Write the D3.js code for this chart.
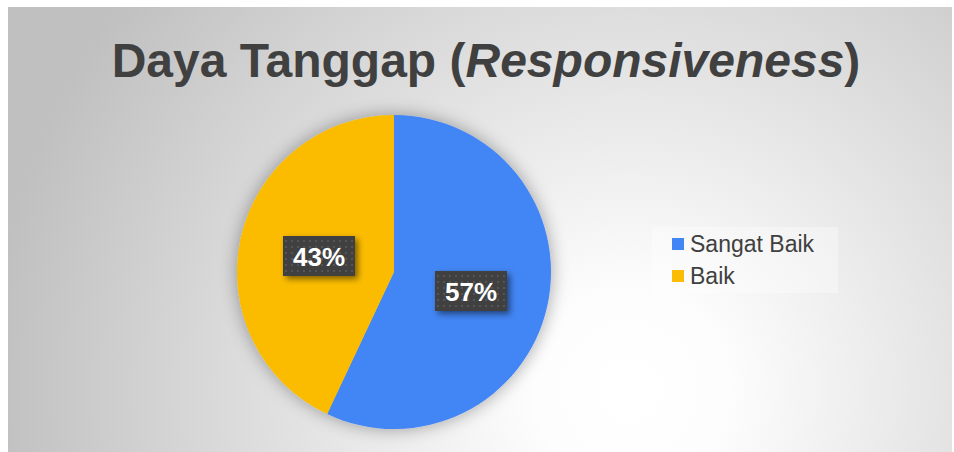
<!DOCTYPE html>
<html>
<head>
<meta charset="utf-8">
<script src="https://cdn.jsdelivr.net/npm/d3@7"></script>
<style>
  body { margin: 0; background: #fff; }
  svg { display: block; font-family: "Liberation Sans", Arial, sans-serif; }
</style>
</head>
<body>
<div id="chart"></div>
<script>
// data
var categories = ["Sangat Baik", "Baik"];
var values = [57, 43];
var colors = ["#4285f4", "#fbbc04"];
var chartTitle = "Daya Tanggap (";
var chartTitleItalic = "Responsiveness";

var svgWidth = 954, svgHeight = 452;

var svg = d3.select("#chart").append("svg")
    .attr("width", svgWidth)
    .attr("height", svgHeight);

var defs = svg.append("defs");

// background gradient
var bg = defs.append("radialGradient")
    .attr("id", "bgGrad")
    .attr("gradientUnits", "userSpaceOnUse")
    .attr("cx", 630).attr("cy", 390).attr("r", 640);
bg.append("stop").attr("offset", "0%").attr("stop-color", "#ffffff");
bg.append("stop").attr("offset", "15%").attr("stop-color", "#fdfdfd");
bg.append("stop").attr("offset", "100%").attr("stop-color", "#c0c0c0");

var shadow = defs.append("filter").attr("id", "pieShadow")
    .attr("x", "-20%").attr("y", "-20%").attr("width", "140%").attr("height", "140%");
shadow.append("feGaussianBlur").attr("in", "SourceAlpha").attr("stdDeviation", 9);
shadow.append("feComponentTransfer").append("feFuncA").attr("type", "linear").attr("slope", 0.35);
var sm = shadow.append("feMerge");
sm.append("feMergeNode");
sm.append("feMergeNode").attr("in", "SourceGraphic");

var boxShadow = defs.append("filter").attr("id", "boxShadow")
    .attr("x", "-30%").attr("y", "-30%").attr("width", "160%").attr("height", "160%");
boxShadow.append("feGaussianBlur").attr("in", "SourceAlpha").attr("stdDeviation", 3);
boxShadow.append("feOffset").attr("dx", 3).attr("dy", 3).attr("result", "ob");
boxShadow.append("feComponentTransfer").append("feFuncA").attr("type", "linear").attr("slope", 0.5);
var bm = boxShadow.append("feMerge");
bm.append("feMergeNode");
bm.append("feMergeNode").attr("in", "SourceGraphic");

var pat = defs.append("pattern").attr("id", "dots")
    .attr("patternUnits", "userSpaceOnUse")
    .attr("width", 6).attr("height", 6);
pat.append("rect").attr("width", 6).attr("height", 6).attr("fill", "#404040");
pat.append("rect").attr("x", 2).attr("y", 2).attr("width", 2).attr("height", 2).attr("fill", "#555555");

svg.append("rect")
    .attr("x", 8).attr("y", 7)
    .attr("width", 944).attr("height", 445)
    .attr("fill", "url(#bgGrad)");

// title
var title = svg.append("text")
    .attr("x", 486).attr("y", 77)
    .attr("text-anchor", "middle")
    .attr("font-size", 48)
    .attr("font-weight", "bold")
    .attr("fill", "#404040");
title.append("tspan").text(chartTitle);
title.append("tspan").attr("font-style", "italic").text(chartTitleItalic);
title.append("tspan").text(")");

// pie
var cx = 394, cy = 272, radius = 157;
var pie = d3.pie().sort(null).value(d => d);
var arc = d3.arc().innerRadius(0).outerRadius(radius);
var arcs = pie(values);

var pieGroup = svg.append("g")
    .attr("transform", `translate(${cx}, ${cy})`);

pieGroup.append("g").attr("filter", "url(#pieShadow)")
    .selectAll("path")
    .data(arcs)
    .enter()
    .append("path")
    .attr("d", arc)
    .attr("fill", (d, i) => colors[i]);

// data labels
var labelPos = [[77, 19], [-75, -16]];
var labels = pieGroup.selectAll(".lbl")
    .data(arcs)
    .enter()
    .append("g")
    .attr("class", "lbl")
    .attr("transform", (d, i) => `translate(${labelPos[i][0]}, ${labelPos[i][1]})`);

labels.append("rect")
    .attr("x", -36).attr("y", -20)
    .attr("width", 72).attr("height", 40)
    .attr("fill", "url(#dots)")
    .attr("filter", "url(#boxShadow)");

labels.append("text")
    .attr("text-anchor", "middle")
    .attr("y", 10)
    .attr("font-size", 26)
    .attr("font-weight", "bold")
    .attr("fill", "#ffffff")
    .text(d => Math.round(d.data) + "%");

// legend
var legend = svg.append("g").attr("transform", "translate(652, 227)");
legend.append("rect")
    .attr("width", 186).attr("height", 66)
    .attr("fill", "#ffffff").attr("opacity", 0.35);

var items = legend.selectAll(".item")
    .data(categories)
    .enter()
    .append("g")
    .attr("class", "item")
    .attr("transform", (d, i) => `translate(20, ${11 + i * 32})`);

items.append("rect")
    .attr("width", 12).attr("height", 12)
    .attr("y", 0)
    .attr("fill", (d, i) => colors[i]);

items.append("text")
    .attr("x", 18).attr("y", 14)
    .attr("font-size", 23)
    .attr("fill", "#404040")
    .text(d => d);
</script>
</body>
</html>
